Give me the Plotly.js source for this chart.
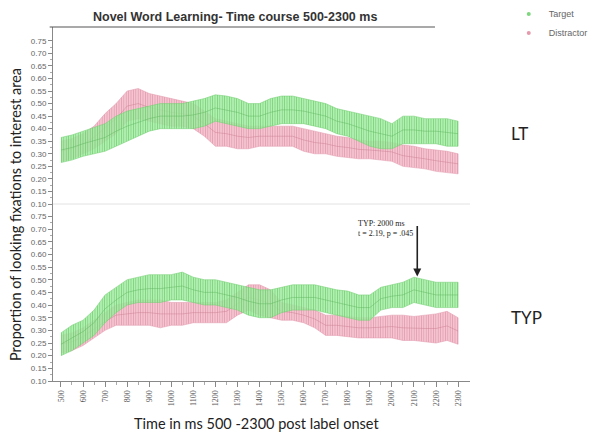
<!DOCTYPE html>
<html>
<head>
<meta charset="utf-8">
<script src="https://cdn.plot.ly/plotly-3.0.1.min.js"></script>
<style>
  html, body { margin: 0; padding: 0; background: #fff; }
  #chart { width: 600px; height: 443px; }
</style>
</head>
<body>
<div id="chart"></div>
<script>
// time points (ms after label onset), read every 50 ms
const time = [500, 550, 600, 650, 700, 750, 800, 850, 900, 950, 1000, 1050, 1100, 1150, 1200, 1250,
  1300, 1350, 1400, 1450, 1500, 1550, 1600, 1650, 1700, 1750, 1800, 1850, 1900, 1950, 2000, 2050,
  2100, 2150, 2200, 2250, 2300];

// LT panel (top): lower / upper edge of the error band
const ltTargetLo = [.265, .275, .29, .30, .31, .33, .35, .37, .39, .40, .40, .40, .40, .41, .43, .42,
  .41, .40, .40, .41, .42, .42, .42, .41, .40, .38, .37, .35, .33, .32, .32, .34,
  .34, .34, .34, .33, .33];
const ltTargetHi = [.365, .375, .39, .405, .42, .45, .47, .48, .49, .50, .50, .50, .51, .52, .535, .53,
  .52, .50, .50, .52, .53, .53, .52, .51, .50, .48, .47, .46, .45, .44, .42, .45,
  .45, .44, .44, .44, .43];
const ltDistLo = [.27, .28, .30, .32, .35, .38, .43, .44, .43, .42, .41, .41, .40, .37, .33, .33,
  .32, .32, .33, .33, .33, .33, .31, .30, .30, .29, .285, .28, .28, .275, .27, .25,
  .245, .24, .23, .225, .22];
const ltDistHi = [.35, .36, .38, .41, .46, .50, .55, .56, .54, .53, .52, .51, .50, .47, .44, .43,
  .42, .41, .41, .41, .41, .41, .40, .39, .38, .37, .365, .355, .35, .35, .345, .335,
  .33, .32, .315, .31, .30];

// TYP panel (bottom)
const typTargetLo = [.20, .22, .25, .28, .33, .37, .40, .41, .41, .41, .42, .42, .41, .40, .40, .39,
  .38, .36, .35, .35, .37, .38, .38, .38, .37, .36, .35, .34, .34, .38, .39, .39,
  .41, .40, .39, .39, .39];
const typTargetHi = [.29, .32, .34, .38, .44, .47, .50, .51, .52, .52, .52, .53, .51, .50, .50, .49,
  .48, .47, .46, .46, .47, .48, .48, .48, .47, .46, .455, .44, .44, .47, .48, .49,
  .51, .50, .49, .49, .49];
const typDistLo = [.21, .22, .24, .27, .30, .32, .32, .32, .32, .31, .32, .32, .33, .33, .33, .33,
  .36, .38, .36, .35, .34, .34, .33, .31, .28, .28, .275, .27, .27, .27, .27, .26,
  .26, .255, .25, .26, .245];
const typDistHi = [.28, .29, .31, .34, .37, .40, .41, .42, .42, .42, .41, .41, .41, .41, .41, .42,
  .45, .48, .48, .46, .41, .40, .39, .38, .36, .36, .355, .35, .35, .355, .36, .36,
  .355, .36, .365, .375, .35];

const xTicks = [500, 600, 700, 800, 900, 1000, 1100, 1200, 1300, 1400, 1500, 1600, 1700, 1800,
  1900, 2000, 2100, 2200, 2300];
const yTicks = [0.10, 0.15, 0.20, 0.25, 0.30, 0.35, 0.40, 0.45, 0.50, 0.55, 0.60, 0.65, 0.70, 0.75];

const GREEN = {bg: 'rgba(168,238,168,0.80)', fg: 'rgba(112,206,112,0.85)', line: 'rgba(90,180,90,0.55)'};
const PINK = {bg: 'rgba(244,192,204,0.85)', fg: 'rgba(226,150,172,0.85)', line: 'rgba(200,120,140,0.55)'};

// error band drawn as one closed, striped shape + a faint mean line
function band(lo, hi, yaxis, c) {
  const xs = time.concat(time.slice().reverse());
  const ys = hi.concat(lo.slice().reverse());
  return [{
    x: xs, y: ys, yaxis: yaxis, type: 'scatter', mode: 'lines',
    fill: 'toself', fillcolor: c.bg,
    fillpattern: {shape: '|', size: 2.4, solidity: 0.4, bgcolor: c.bg, fgcolor: c.fg},
    line: {width: 0.6, color: c.fg},
    hoverinfo: 'skip', showlegend: false
  }, {
    x: time, y: lo.map((v, i) => (v + hi[i]) / 2), yaxis: yaxis, type: 'scatter', mode: 'lines',
    line: {width: 0.8, color: c.line},
    hoverinfo: 'skip', showlegend: false
  }];
}

const traces = [].concat(
  band(ltDistLo, ltDistHi, 'y2', PINK),
  band(ltTargetLo, ltTargetHi, 'y2', GREEN),
  band(typDistLo, typDistHi, 'y', PINK),
  band(typTargetLo, typTargetHi, 'y', GREEN),
  [
    {x: [null], y: [null], type: 'scatter', mode: 'markers', name: 'Target',
     marker: {color: '#7ed67e', size: 4}},
    {x: [null], y: [null], type: 'scatter', mode: 'markers', name: 'Distractor',
     marker: {color: '#e49aac', size: 4}}
  ]
);

const yAxisBase = {
  tickvals: yTicks, ticktext: yTicks.map(v => v.toFixed(2)),
  tickfont: {family: 'Liberation Sans, Arial', size: 8, color: '#666'},
  ticks: 'outside', ticklen: 4, tickcolor: '#888',
  minor: {tickvals: yTicks.slice(0, -1).map(v => v + 0.025), ticks: 'outside', ticklen: 2, tickcolor: '#aaa'},
  showline: true, linecolor: '#888', linewidth: 1,
  showgrid: false, zeroline: false, anchor: 'x'
};

const layout = {
  width: 600, height: 443,
  margin: {l: 53, r: 130, t: 27, b: 62, autoexpand: false},
  paper_bgcolor: '#fff', plot_bgcolor: '#fff',
  title: {
    text: '<b>Novel Word Learning- Time course 500-2300 ms</b>',
    font: {family: 'Liberation Sans, Arial', size: 12.5, color: '#333'},
    x: 0.392, xanchor: 'center', y: 0.963, yanchor: 'middle'
  },
  xaxis: {
    range: [464, 2354],
    tickvals: xTicks, ticktext: xTicks.map(String), tickangle: -90,
    tickfont: {family: 'Liberation Serif, Times New Roman', size: 8, color: '#555'},
    ticks: 'outside', ticklen: 5, tickcolor: '#888',
    minor: {tickvals: xTicks.slice(0, -1).map(v => v + 50), ticks: 'outside', ticklen: 3, tickcolor: '#aaa'},
    showline: true, linecolor: '#888', linewidth: 1,
    showgrid: false, zeroline: false, anchor: 'y'
  },
  yaxis: Object.assign({}, yAxisBase, {domain: [0, 0.5], range: [0.10, 0.799]}),
  yaxis2: Object.assign({}, yAxisBase, {domain: [0.5, 1], range: [0.10, 0.805]}),
  showlegend: true,
  legend: {
    x: 1.093, xanchor: 'left', y: 1.078, yanchor: 'top',
    font: {family: 'Liberation Sans, Arial', size: 9, color: '#666'},
    itemwidth: 30, tracegroupgap: 0, bgcolor: 'rgba(0,0,0,0)'
  },
  shapes: [
    {type: 'line', xref: 'paper', yref: 'paper', x0: -0.008, x1: 0.916, y0: 1, y1: 1,
     line: {color: '#555', width: 1.2}},
    {type: 'line', xref: 'paper', yref: 'paper', x0: 0, x1: 1, y0: 0.5, y1: 0.5,
     line: {color: '#e2e2e2', width: 1}}
  ],
  annotations: [
    {text: 'Proportion of looking fixations to interest area', xref: 'paper', yref: 'paper',
     x: -0.09, y: 0.47, textangle: -90, showarrow: false, xanchor: 'center', yanchor: 'middle',
     font: {family: 'Lato, Noto Sans', size: 14.5, color: '#222'}},
    {text: 'Time in ms 500 -2300 post label onset', xref: 'paper', yref: 'paper',
     x: 0.489, y: -0.119, showarrow: false, xanchor: 'center', yanchor: 'middle',
     font: {family: 'Lato, Noto Sans', size: 14.5, color: '#222'}},
    {text: 'LT', xref: 'paper', yref: 'paper', x: 1.118, y: 0.7, showarrow: false,
     xanchor: 'center', yanchor: 'middle', font: {family: 'Lato, Noto Sans', size: 17, color: '#222'}},
    {text: 'TYP', xref: 'paper', yref: 'paper', x: 1.135, y: 0.178, showarrow: false,
     xanchor: 'center', yanchor: 'middle', font: {family: 'Lato, Noto Sans', size: 17, color: '#222'}},
    {text: 'TYP: 2000 ms<br>t = 2.19, p = .045', xref: 'paper', yref: 'paper',
     x: 0.727, y: 0.432, showarrow: false, xanchor: 'left', yanchor: 'middle', align: 'left',
     font: {family: 'Liberation Serif, Times New Roman', size: 8, color: '#222'}},
    {text: '', x: 2115, y: 0.513, xref: 'x', yref: 'y', showarrow: true,
     ax: 0, ay: -52, arrowhead: 2, arrowsize: 1, arrowwidth: 1.6, arrowcolor: '#222'}
  ]
};

Plotly.newPlot('chart', traces, layout, {displayModeBar: false, staticPlot: true});
</script>
</body>
</html>
